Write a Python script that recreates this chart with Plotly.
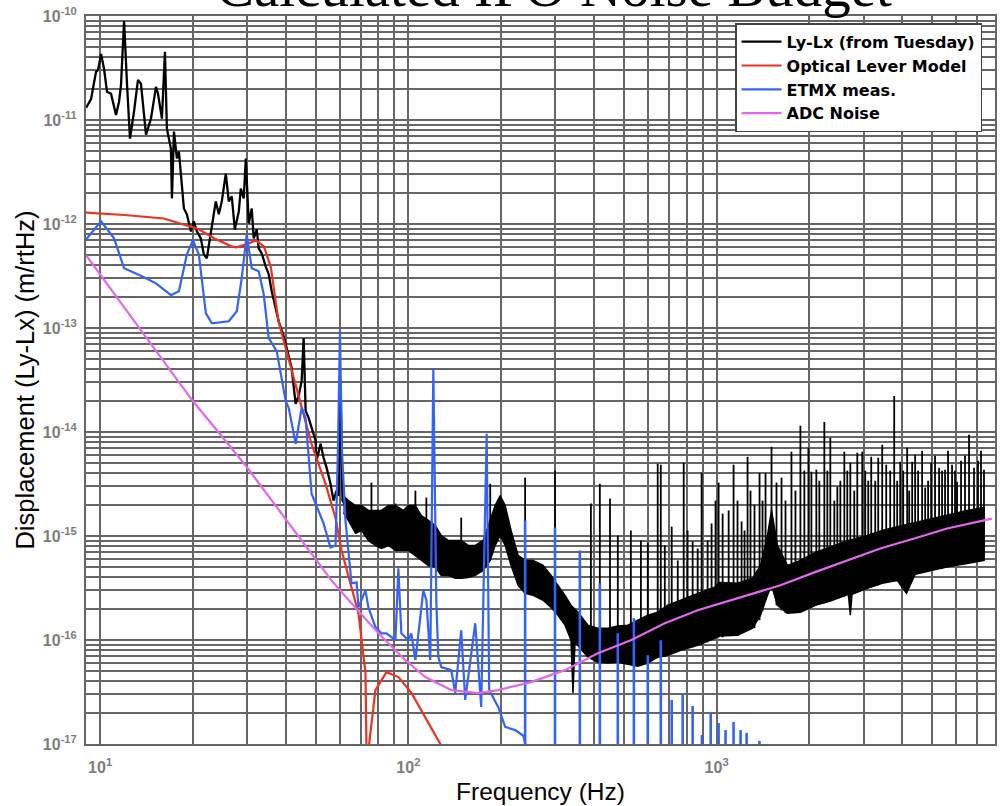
import math
import plotly.graph_objects as go

# ---------------- data ----------------
# Ly-Lx (from Tuesday): low-frequency line part
black_f = [9.01, 9.35, 9.70, 9.85, 10.07, 10.30, 10.53, 10.85, 11.26, 11.52, 11.69, 11.96, 12.23, 12.50,
           12.88, 13.27, 13.57, 14.09, 14.62, 15.18, 15.41, 15.75, 15.87, 16.23, 16.47, 16.97, 17.10, 17.36,
           17.75, 18.02, 18.29, 18.70, 19.12, 19.70, 20.14, 20.60, 21.22, 21.70, 22.19, 22.86, 23.73, 24.27,
           24.82, 25.57, 26.15, 26.74, 27.35, 28.18, 28.60, 29.24, 29.69, 30.36, 31.04, 31.51, 32.22, 32.70,
           33.44, 34.45, 35.23, 36.03, 37.12, 37.96, 39.40, 39.99, 40.89, 41.81, 43.09, 44.06, 45.06, 45.74,
           46.42, 47.47, 48.54, 50.0, 50.38, 51.91, 53.08, 54.28, 55.90, 57.17, 58.48, 59.36, 60.25, 61.14, 62.54]
black_A = [1.31e-11, 1.60e-11, 2.90e-11, 3.03e-11, 4.32e-11, 3.10e-11, 1.87e-11, 1.79e-11, 1.12e-11, 1.50e-11,
           2.18e-11, 8.95e-11, 2.18e-11, 6.62e-12, 1.20e-11, 2.43e-11, 2.23e-11, 7.23e-12, 1.03e-11, 2.08e-11,
           1.79e-11, 1.08e-11, 1.03e-11, 4.52e-11, 8.26e-12, 5.31e-12, 1.76e-12, 7.73e-12, 4.26e-12, 4.96e-12,
           2.99e-12, 1.41e-12, 1.24e-12, 8.49e-13, 1.06e-12, 8.49e-13, 7.28e-13, 5.12e-13, 4.68e-13, 7.94e-13,
           1.65e-12, 1.24e-12, 1.65e-12, 3.05e-12, 1.65e-12, 1.84e-12, 8.87e-13, 1.32e-12, 2.19e-12, 1.76e-12,
           4.26e-12, 1.01e-12, 1.41e-12, 7.28e-13, 8.87e-13, 5.83e-13, 5.22e-13, 3.92e-13, 3.29e-13, 2.26e-13,
           1.55e-13, 1.16e-13, 8.36e-14, 7.01e-14, 5.14e-14, 4.12e-14, 1.86e-14, 2.22e-14, 3.10e-14, 8.0e-14,
           1.60e-14, 1.37e-14, 1.10e-14, 8.24e-15, 5.30e-15, 7.71e-15, 5.66e-15, 4.54e-15, 3.18e-15, 2.19e-15,
           2.73e-15, 2.44e-15, 3.10e-14, 2.19e-15, 1.96e-15]

# Ly-Lx dense noise band above ~60 Hz: upper and lower edges
band_hi_f = [61.6, 63.9, 67.4, 70.5, 74.2, 78.2, 81.8, 86.2, 90.8, 96.3, 100, 105.4, 110.2, 116.1, 122.3, 127.9,
             134.7, 141.9, 148.4, 156.4, 164.8, 174.9, 184.3, 191.2, 198.5, 206.1, 215.4, 227.0, 239.2, 254,
             273.5, 290.3, 305.8, 322.3, 337.0, 355.1, 382.4, 412, 443.9, 478.2, 515.2, 555.1, 598.2, 644.4,
             694.2, 764.7, 868.2, 985, 1022, 1169, 1308, 1388, 1462, 1507, 1575, 1697, 1870, 2091, 2374, 2675,
             3082, 3445, 3853, 4406, 5000, 5675, 6491, 7368]
band_hi = [2.44e-15, 2.19e-15, 1.96e-15, 1.96e-15, 1.76e-15, 1.76e-15, 1.76e-15, 1.96e-15, 1.96e-15, 1.76e-15,
           1.96e-15, 1.96e-15, 1.57e-15, 1.41e-15, 1.26e-15, 1.01e-15, 9.06e-16, 9.06e-16, 9.06e-16, 8.11e-16,
           8.11e-16, 9.06e-16, 1.41e-15, 1.96e-15, 2.44e-15, 1.96e-15, 1.13e-15, 6.50e-16, 5.82e-16, 5.82e-16,
           5.21e-16, 4.18e-16, 3.35e-16, 2.69e-16, 2.16e-16, 1.85e-16, 1.39e-16, 1.30e-16, 1.30e-16, 1.36e-16,
           1.39e-16, 1.55e-16, 1.73e-16, 1.85e-16, 2.16e-16, 2.41e-16, 2.81e-16, 3.21e-16, 3.58e-16, 3.51e-16,
           3.92e-16, 5.21e-16, 1.01e-15, 1.76e-15, 8.11e-16, 5.21e-16, 5.82e-16, 6.95e-16, 7.93e-16, 9.06e-16,
           1.01e-15, 1.13e-15, 1.23e-15, 1.35e-15, 1.47e-15, 1.61e-15, 1.76e-15, 1.88e-15]
band_lo_f = [61.6, 63.9, 67.4, 70.5, 74.2, 78.2, 81.8, 86.2, 90.8, 96.3, 100, 105.4, 110.2, 116.1, 122.3, 127.9,
             134.7, 141.9, 148.4, 156.4, 164.8, 174.9, 184.3, 191.2, 198.5, 206.1, 215.4, 227.0, 239.2, 254,
             273.5, 290.3, 305.8, 322.3, 337.0, 342, 347.2, 355.1, 382.4, 412, 443.9, 478.2, 515.2, 555.1, 598.2,
             644.4, 694.2, 764.7, 868.2, 985, 1022, 1169, 1308, 1388, 1462, 1507, 1575, 1697, 1870, 2091, 2374,
             2675, 2715, 2750, 3082, 3445, 3853, 4130, 4406, 5000, 5675, 6491, 7368]
band_lo = [1.68e-15, 1.41e-15, 1.06e-15, 1.13e-15, 9.06e-16, 8.11e-16, 7.59e-16, 8.11e-16, 7.26e-16, 7.26e-16,
           7.26e-16, 6.50e-16, 5.82e-16, 5.21e-16, 4.99e-16, 4.18e-16, 4.18e-16, 3.92e-16, 3.92e-16, 4.00e-16,
           4.18e-16, 4.67e-16, 5.82e-16, 8.11e-16, 1.01e-15, 8.11e-16, 5.21e-16, 3.35e-16, 2.81e-16, 2.69e-16,
           2.41e-16, 2.06e-16, 1.73e-16, 1.39e-16, 9.95e-17, 3.09e-17, 9.5e-17, 8.91e-17, 6.84e-17, 6.12e-17,
           6.00e-17, 6.12e-17, 5.86e-17, 5.61e-17, 6.00e-17, 6.84e-17, 7.14e-17, 7.98e-17, 8.91e-17, 1.04e-16,
           1.09e-16, 1.11e-16, 1.30e-16, 1.73e-16, 2.69e-16, 3.35e-16, 2.16e-16, 1.81e-16, 1.85e-16, 2.16e-16,
           2.41e-16, 2.75e-16, 1.73e-16, 2.75e-16, 3.14e-16, 3.51e-16, 3.74e-16, 2.81e-16, 4.28e-16, 4.67e-16,
           5.10e-16, 5.45e-16, 5.82e-16]

# Ly-Lx narrow lines (frequency, band value at foot, peak value)
spike_f = [75.9, 90.8, 105.4, 114.4, 148.4, 184.3, 239.2, 299, 391, 418, 451, 478, 527, 568, 598, 644, 659, 715,
           782, 836, 894, 963, 1015, 1046, 1135, 1205, 1260, 1327, 1378, 1441, 1507, 1564, 1624, 1749, 1870, 1985,
           2030, 2106, 2236, 2338, 2464, 2596, 2715, 2860, 2968, 3174, 3344, 3445, 3550, 3768, 3940, 4151, 4309,
           4406, 4748, 4964, 5269, 5509, 5805, 6026, 6590, 6839, 7368,
           679, 748, 805, 868, 935, 992, 1094, 1169, 1232, 1288, 1409, 1673, 1802, 1926, 2154, 2287, 2409, 2520,
           2654, 2796, 3035, 3104, 3270, 3657, 3853, 4030, 4214, 4505, 4642, 4854, 5112, 5387, 5633, 5935, 6208,
           6394, 7046, 7206]
spike_top = [3.26e-15, 2.05e-15, 2.73e-15, 2.34e-15, 1.50e-15, 3.18e-15, 3.64e-15, 4.25e-15, 2.05e-15, 3.18e-15,
             2.29e-15, 1.01e-15, 1.13e-15, 9.06e-16, 8.66e-16, 4.95e-15, 4.85e-15, 1.23e-15, 5.07e-15, 8.86e-16,
             4.06e-15, 1.32e-15, 3.26e-15, 1.64e-15, 4.85e-15, 1.38e-15, 5.78e-15, 2.0e-15, 4.06e-15, 4.06e-15,
             7.21e-15, 3.26e-15, 3.64e-15, 6.46e-15, 1.15e-14, 7.06e-15, 4.15e-15, 4.34e-15, 1.25e-14, 8.8e-15,
             2.98e-15, 6.46e-15, 5.07e-15, 6.32e-15, 6.46e-15, 5.78e-15, 5.66e-15, 7.54e-15, 4.85e-15, 2.22e-14,
             5.18e-15, 7.06e-15, 5.18e-15, 6.04e-15, 2.92e-15, 5.07e-15, 4.54e-15, 4.34e-15, 4.85e-15, 3.33e-15,
             9.4e-15, 4.54e-15, 4.34e-15,
             8.11e-16, 5.82e-16, 1.13e-15, 7.59e-16, 9.06e-16, 2.19e-15, 1.76e-15, 2.19e-15, 1.13e-15, 2.73e-15,
             2.19e-15, 2.19e-15, 2.73e-15, 4.25e-15, 3.40e-15, 4.25e-15, 2.19e-15, 3.40e-15, 4.25e-15, 2.73e-15,
             4.25e-15, 3.40e-15, 3.40e-15, 4.25e-15, 3.40e-15, 4.25e-15, 2.73e-15, 4.25e-15, 6.6e-15, 3.40e-15,
             5.91e-15, 4.25e-15, 6.6e-15, 4.25e-15, 5.30e-15, 5.91e-15, 5.30e-15, 6.6e-15]
spike_base = [8.5e-16, 7.26e-16, 6.5e-16, 5.45e-16, 3.92e-16, 5.82e-16, 2.81e-16, 2.06e-16, 6.84e-17, 6.12e-17,
              6.0e-17, 6.12e-17, 5.86e-17, 5.61e-17, 6.0e-17, 6.84e-17, 7.0e-17, 7.4e-17, 7.98e-17, 8.5e-17,
              8.91e-17, 9.95e-17, 1.06e-16, 1.06e-16, 1.11e-16, 1.16e-16, 1.24e-16, 1.30e-16, 1.55e-16, 2.41e-16,
              3.0e-16, 2.16e-16, 1.93e-16, 1.85e-16, 1.85e-16, 2.0e-16, 2.06e-16, 2.16e-16, 2.25e-16, 2.35e-16,
              2.5e-16, 2.6e-16, 2.75e-16, 2.85e-16, 3.0e-16, 3.21e-16, 3.35e-16, 3.51e-16, 3.58e-16, 3.74e-16,
              3.8e-16, 4.0e-16, 4.1e-16, 4.28e-16, 4.47e-16, 4.67e-16, 4.9e-16, 4.99e-16, 5.1e-16, 5.21e-16,
              5.45e-16, 5.6e-16, 5.82e-16,
              6.9e-17, 7.9e-17, 8.3e-17, 8.9e-17, 9.5e-17, 1.04e-16, 1.1e-16, 1.11e-16, 1.2e-16, 1.28e-16,
              1.9e-16, 1.81e-16, 1.83e-16, 1.9e-16, 2.2e-16, 2.3e-16, 2.45e-16, 2.55e-16, 2.7e-16, 2.8e-16,
              3.1e-16, 3.15e-16, 3.3e-16, 3.65e-16, 3.74e-16, 3.9e-16, 4.05e-16, 4.35e-16, 4.4e-16, 4.6e-16,
              4.75e-16, 4.85e-16, 5.0e-16, 5.15e-16, 5.3e-16, 5.4e-16, 5.7e-16, 5.75e-16]

# Optical Lever Model
olev_f = [8.9, 12.0, 16.1, 18.7, 20.9, 23.4, 26.7, 27.7, 29.9, 32.0, 34.0, 35.8, 37.9, 43.0, 48.5, 53.8, 58.0,
          60.7, 65.4, 68.9, 72.6, 73.6, 74.6, 78.2, 84.9, 92.9, 102.3, 113.6, 127, 135]
olev_A = [1.29e-12, 1.22e-12, 1.13e-12, 9.9e-13, 8.9e-13, 7.3e-13, 6.1e-13, 5.97e-13, 6.4e-13, 6.97e-13, 6.1e-13,
          3.84e-13, 1.16e-13, 2.9e-14, 7.7e-15, 3.2e-15, 1.5e-15, 7.3e-16, 3.2e-16, 1.8e-16, 4.8e-17, 2e-18, 1e-17,
          3.3e-17, 4.9e-17, 4.4e-17, 3.1e-17, 1.8e-17, 1.0e-17, 7e-18]

# ETMX meas.
etmx_f = [9.01, 10.07, 11.1, 11.96, 13.67, 15.18, 16.98, 18.02, 19.12, 20.0, 20.9, 22.03, 23.04, 26.15, 27.76,
          28.8, 29.9, 31.04, 32.7, 33.94, 35.23, 37.4, 40.0, 40.9, 43.1, 45.06, 46.4, 48.54, 53.07, 55.9, 58.05,
          59.1, 60.0, 60.9, 62.5, 63.9, 65.4, 67.9, 68.9, 72.6, 74.2, 78.2, 81.8, 84.9, 90.8, 92.8, 94.9, 100,
          102.2, 105.4, 111.8, 114.4, 117.8, 120.5, 123.2, 125.1, 127.9, 137.8, 141.9, 148.4, 152.9, 164.8, 172.3,
          179.5, 182.9, 195.6, 206.1, 222, 236, 250]
etmx_A = [7.11e-13, 1.06e-12, 7.28e-13, 3.75e-13, 3.15e-13, 2.69e-13, 2.07e-13, 2.26e-13, 5.12e-13, 6.97e-13,
          5.12e-13, 1.39e-13, 1.11e-13, 1.16e-13, 1.45e-13, 3.01e-13, 7.94e-13, 3.75e-13, 3.51e-13, 2.11e-13,
          8.0e-14, 6.0e-14, 1.99e-14, 1.71e-14, 7.71e-15, 1.71e-14, 1.37e-14, 2.55e-15, 1.32e-15, 7.76e-16,
          8.1e-16, 6.6e-15, 9.33e-14, 6.6e-15, 1.41e-15, 6.5e-16, 3.5e-16, 3.58e-16, 2.06e-16, 3.0e-16, 2.06e-16,
          1.33e-16, 1.16e-16, 1.16e-16, 9.95e-17, 4.88e-16, 1.16e-16, 9.95e-17, 1.16e-16, 6.4e-17, 3.0e-16,
          2.41e-16, 6.4e-17, 4.04e-14, 2.41e-16, 6.84e-17, 5.48e-17, 5.13e-17, 3.09e-17, 1.24e-16, 2.65e-17,
          1.45e-16, 2.27e-17, 9.6e-15, 3.3e-17, 2.27e-17, 1.46e-17, 1.36e-17, 1.2e-17, 6e-18]
# ETMX 60 Hz harmonics above 230 Hz (peak values; the floor lies below the plotted range)
etmx_line_f = [239.2, 299, 360, 418, 478, 539, 598, 659, 715, 776, 836, 896, 957, 1015, 1069, 1135, 1196, 1251, 1377]
etmx_line_A = [1.41e-15, 1.21e-15, 7.26e-16, 3.51e-16, 1.16e-16, 1.62e-16, 7.14e-17, 9.95e-17, 2.65e-17, 2.96e-17,
               2.32e-17, 1.22e-17, 1.99e-17, 1.59e-17, 1.36e-17, 1.63e-17, 1.36e-17, 1.28e-17, 1.07e-17]
etmx_floor = 3e-18

# ADC Noise
adc_f = [9.01, 19.85, 29.7, 44.05, 56.3, 65.4, 80.0, 97.8, 113.5, 137.8, 168.5, 195.6, 250, 322, 412, 527, 679,
         868, 1259, 1611, 2075, 2654, 3396, 4375, 5597, 7816]
adc_A = [5.0e-13, 2.04e-14, 4.74e-15, 9.9e-16, 3.74e-16, 2.25e-16, 1.16e-16, 6.4e-17, 4.4e-17, 3.3e-17, 3.09e-17,
         3.3e-17, 3.94e-17, 5.13e-17, 7.46e-17, 9.95e-17, 1.45e-16, 1.93e-16, 2.69e-16, 3.36e-16, 4.47e-16,
         5.82e-16, 7.59e-16, 9.46e-16, 1.18e-15, 1.47e-15]

series_names = ["Ly-Lx (from Tuesday)", "Optical Lever Model", "ETMX meas.", "ADC Noise"]
x_decades = [1, 2, 3]
y_decades = [-17, -16, -15, -14, -13, -12, -11, -10]
x_limits = [9, 8000]

assert len(black_f) == len(black_A)
assert len(band_hi_f) == len(band_hi) and len(band_lo_f) == len(band_lo)
assert len(spike_f) == len(spike_top) == len(spike_base)
assert len(olev_f) == len(olev_A) and len(etmx_f) == len(etmx_A)
assert len(etmx_line_f) == len(etmx_line_A) and len(adc_f) == len(adc_A)

# ---------------- figure ----------------
BLACK = "#000000"
RED = "#f2301f"
BLUE = "#3462ff"
MAG = "#e466ee"

fig = go.Figure()
fig.add_trace(go.Scatter(x=black_f, y=black_A, mode="lines", name=series_names[0],
                         line=dict(color=BLACK, width=2.3)))
fig.add_trace(go.Scatter(x=band_hi_f + band_lo_f[::-1], y=band_hi + band_lo[::-1], mode="lines",
                         fill="toself", fillcolor=BLACK, line=dict(color=BLACK, width=1.5),
                         showlegend=False, hoverinfo="skip"))
sx, sy = [], []
for f, b, t in zip(spike_f, spike_base, spike_top):
    sx += [f, f, None]
    sy += [b, t, None]
fig.add_trace(go.Scatter(x=sx, y=sy, mode="lines", line=dict(color=BLACK, width=1.8),
                         showlegend=False, hoverinfo="skip"))
fig.add_trace(go.Scatter(x=olev_f, y=olev_A, mode="lines", name=series_names[1],
                         line=dict(color=RED, width=2.2)))
fig.add_trace(go.Scatter(x=etmx_f, y=etmx_A, mode="lines", name=series_names[2],
                         line=dict(color=BLUE, width=2.2)))
bx, by = [], []
for f, t in zip(etmx_line_f, etmx_line_A):
    bx += [f, f, None]
    by += [etmx_floor, t, None]
fig.add_trace(go.Scatter(x=bx, y=by, mode="lines", line=dict(color=BLUE, width=2.6),
                         showlegend=False, hoverinfo="skip"))
fig.add_trace(go.Scatter(x=adc_f, y=adc_A, mode="lines", name=series_names[3],
                         line=dict(color=MAG, width=2.2)))

# ticks: every 1..9 multiple gets a grid line, only decades are labelled
xt_vals, xt_text = [], []
for d in [0] + x_decades:
    for m in range(1, 10):
        v = m * 10 ** d
        if x_limits[0] <= v <= x_limits[1]:
            xt_vals.append(v)
            xt_text.append(f"10<sup>{d}</sup>" if m == 1 else "")
yt_vals, yt_text = [], []
for d in y_decades:
    for m in range(1, 10):
        if d == y_decades[-1] and m > 1:
            break
        yt_vals.append(m * 10.0 ** d)
        yt_text.append(f"10<sup>{d}</sup>" if m == 1 else "")

GRID = "#666666"
tickfont = dict(family="Liberation Sans", size=16, color="#7d7d7d", weight="bold")

fig.update_layout(
    width=1002, height=806,
    margin=dict(l=86, r=5, t=14, b=62),
    paper_bgcolor="white", plot_bgcolor="white",
    xaxis=dict(type="log", range=[math.log10(x_limits[0]), math.log10(x_limits[1])],
               tickmode="array", tickvals=xt_vals, ticktext=xt_text,
               showgrid=True, gridcolor=GRID, gridwidth=1.7,
               showline=True, linecolor=GRID, linewidth=2, mirror=True,
               ticks="", tickfont=tickfont, ticklabelstandoff=8,
               title=dict(text="Frequency (Hz)", standoff=8,
                          font=dict(family="Liberation Sans", size=24.5, color="black"))),
    yaxis=dict(type="log", range=[y_decades[0], y_decades[-1]],
               tickmode="array", tickvals=yt_vals, ticktext=yt_text,
               showgrid=True, gridcolor=GRID, gridwidth=1.7,
               showline=True, linecolor=GRID, linewidth=2, mirror=True,
               ticks="", tickfont=tickfont, ticklabelstandoff=4,
               title=dict(text="Displacement (Ly-Lx) (m/rtHz)", standoff=1,
                          font=dict(family="Liberation Sans", size=25.5, color="black"))),
    legend=dict(x=0.714, y=0.99, xanchor="left", yanchor="top",
                bgcolor="white", bordercolor="#444", borderwidth=1.5,
                font=dict(family="DejaVu Sans", size=16, color="black", weight="bold"),
                itemwidth=40, tracegroupgap=0),
    showlegend=True,
    annotations=[dict(text="Calculated IFO Noise Budget", xref="paper", yref="paper",
                      x=0.515, y=1.0, xanchor="center", yanchor="bottom", yshift=-4,
                      showarrow=False,
                      font=dict(family="Liberation Serif", size=57, color="black"))],
)

fig.write_html("out.html")
